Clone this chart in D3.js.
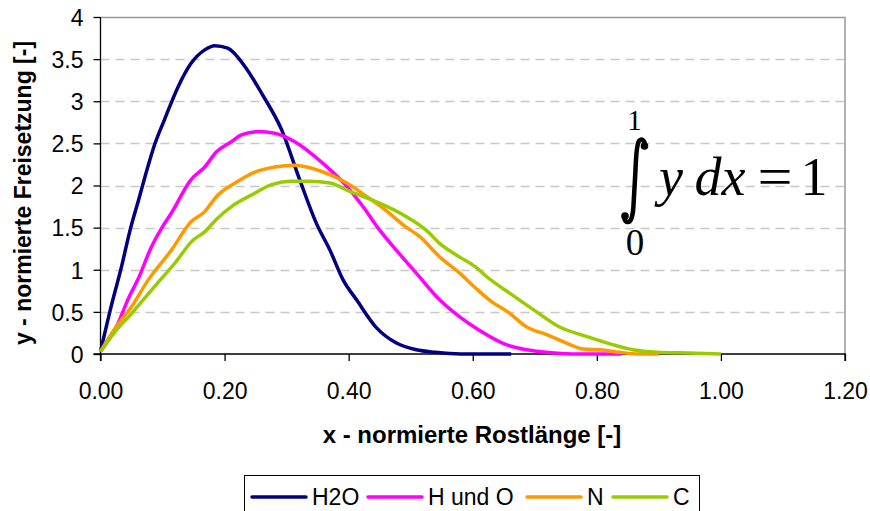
<!DOCTYPE html>
<html>
<head>
<meta charset="utf-8">
<script src="https://cdn.jsdelivr.net/npm/d3@7/dist/d3.min.js"></script>
<style>
  body { margin: 0; background: #fff; }
  svg { font-family: "Liberation Sans", Arial, sans-serif; }
</style>
</head>
<body>
<div id="chart"></div>
<script>
(function(d3) {
  'use strict';

  // series names and colours
  var seriesNames = ['H2O', 'H und O', 'N', 'C'];
  var seriesColors = ['#000080', '#FF00FF', '#FF9900', '#99CC00'];

  // H2O
  var h2oX = [0, 0.017, 0.034, 0.047, 0.063, 0.077, 0.087, 0.103, 0.125, 0.146, 0.168, 0.184, 0.205, 0.233, 0.26, 0.292, 0.321, 0.348, 0.37, 0.391, 0.413, 0.445, 0.477, 0.509, 0.54, 0.58, 0.662];
  var h2oY = [0.03, 0.56, 1.04, 1.45, 1.87, 2.24, 2.48, 2.78, 3.17, 3.45, 3.61, 3.66, 3.63, 3.41, 3.09, 2.66, 2.07, 1.55, 1.23, 0.88, 0.64, 0.31, 0.13, 0.05, 0.02, 0.0, 0.0];

  // H und O
  var hoX = [0, 0.028, 0.045, 0.06, 0.082, 0.099, 0.114, 0.146, 0.168, 0.187, 0.211, 0.227, 0.254, 0.281, 0.313, 0.359, 0.397, 0.423, 0.45, 0.477, 0.509, 0.547, 0.579, 0.611, 0.654, 0.687, 0.719, 0.76, 0.84];
  var hoY = [0.03, 0.36, 0.66, 0.88, 1.27, 1.50, 1.67, 2.07, 2.22, 2.40, 2.52, 2.60, 2.64, 2.62, 2.52, 2.26, 1.99, 1.75, 1.47, 1.23, 0.96, 0.64, 0.44, 0.28, 0.11, 0.05, 0.02, 0.0, 0.0];

  // N
  var nX = [0, 0.023, 0.05, 0.077, 0.114, 0.146, 0.168, 0.187, 0.217, 0.249, 0.281, 0.313, 0.359, 0.397, 0.429, 0.461, 0.49, 0.515, 0.547, 0.579, 0.605, 0.627, 0.66, 0.687, 0.719, 0.751, 0.778, 0.805, 0.837, 0.866, 0.9];
  var nY = [0.03, 0.30, 0.56, 0.88, 1.23, 1.57, 1.69, 1.87, 2.03, 2.16, 2.22, 2.24, 2.16, 2.03, 1.87, 1.70, 1.52, 1.39, 1.15, 0.96, 0.78, 0.64, 0.48, 0.32, 0.23, 0.13, 0.06, 0.05, 0.02, 0.0, 0.0];

  // C
  var cX = [0, 0.023, 0.05, 0.087, 0.12, 0.149, 0.168, 0.187, 0.211, 0.244, 0.276, 0.308, 0.337, 0.37, 0.402, 0.45, 0.493, 0.525, 0.547, 0.579, 0.605, 0.622, 0.66, 0.703, 0.74, 0.783, 0.821, 0.858, 0.896, 0.96, 1.0];
  var cY = [0.03, 0.26, 0.48, 0.80, 1.08, 1.35, 1.45, 1.60, 1.75, 1.89, 2.01, 2.05, 2.05, 2.03, 1.93, 1.79, 1.63, 1.47, 1.31, 1.15, 1.03, 0.92, 0.72, 0.50, 0.32, 0.21, 0.12, 0.05, 0.02, 0.01, 0.0];

  var xTicks = [0, 0.2, 0.4, 0.6, 0.8, 1.0, 1.2];
  var yTicks = [0, 0.5, 1, 1.5, 2, 2.5, 3, 3.5, 4];

  var seriesX = [h2oX, hoX, nX, cX];
  var seriesY = [h2oY, hoY, nY, cY];

  var width = 870;
  var height = 511;
  var left = 100.5, right = 845, top = 17, bottom = 354;

  var svg = d3.select('#chart')
    .append('svg')
    .attr('width', width)
    .attr('height', height);

  var x = d3.scaleLinear().domain([0, 1.2]).range([left, right]);
  var y = d3.scaleLinear().domain([0, 4]).range([bottom, top]);

  // gridlines
  svg.append('g')
    .selectAll('line')
    .data(yTicks.filter(function(d) { return d > 0 && d < 4; }))
    .enter()
    .append('line')
    .attr('x1', left)
    .attr('x2', right)
    .attr('y1', function(d) { return Math.round(y(d)) + 0.5; })
    .attr('y2', function(d) { return Math.round(y(d)) + 0.5; })
    .attr('stroke', '#c8c8c8')
    .attr('stroke-width', 1.3)
    .attr('stroke-dasharray', '9,6');

  // top and right border
  svg.append('path')
    .attr('d', 'M' + left + ',' + (top + 0.5) + 'H' + right + 'V' + bottom)
    .attr('fill', 'none')
    .attr('stroke', '#999')
    .attr('stroke-width', 1.5);

  // axes
  var yAxis = d3.axisLeft(y)
    .tickValues(yTicks)
    .tickSize(7)
    .tickPadding(10)
    .tickFormat(function(d) { return String(d); });

  var xAxis = d3.axisBottom(x)
    .tickValues(xTicks)
    .tickSize(7)
    .tickPadding(22)
    .tickFormat(d3.format('.2f'));

  var gy = svg.append('g')
    .attr('transform', 'translate(' + left + ',0)')
    .call(yAxis);
  var gx = svg.append('g')
    .attr('transform', 'translate(0,' + bottom + ')')
    .call(xAxis);

  [gx, gy].forEach(function(g) {
    g.select('.domain').attr('stroke', '#000').attr('stroke-width', 1.3);
    g.selectAll('.tick line').attr('stroke', '#000').attr('stroke-width', 1.3);
    g.selectAll('.tick text')
      .attr('fill', '#000')
      .style('font-family', '"Liberation Sans", Arial, sans-serif')
      .style('font-size', '23px');
  });
  gx.select('.domain').attr('d', 'M' + left + ',7V0H' + right + 'V7');
  gy.select('.domain').attr('d', 'M-7,' + bottom + 'H0V' + top);
  gy.selectAll('.tick text').attr('dy', '0.36em');

  // lines
  var line = d3.line()
    .x(function(d) { return x(d[0]); })
    .y(function(d) { return y(d[1]); })
    .curve(d3.curveMonotoneX);

  seriesNames.forEach(function(name, i) {
    var pts = seriesX[i].map(function(v, j) { return [v, seriesY[i][j]]; });
    svg.append('path')
      .datum(pts)
      .attr('d', line)
      .attr('fill', 'none')
      .attr('stroke', seriesColors[i])
      .attr('stroke-width', 3.5)
      .attr('stroke-linejoin', 'round');
  });

  // axis titles
  svg.append('text')
    .attr('x', 472)
    .attr('y', 443)
    .attr('text-anchor', 'middle')
    .style('font-size', '24px')
    .style('font-weight', 'bold')
    .text('x - normierte Rostlänge [-]');

  svg.append('text')
    .attr('transform', 'translate(31,193) rotate(-90)')
    .attr('text-anchor', 'middle')
    .style('font-size', '23px')
    .style('font-weight', 'bold')
    .text('y - normierte Freisetzung [-]');

  // integral annotation
  var eq = svg.append('g')
    .style('font-family', '"Liberation Serif", "Times New Roman", serif')
    .attr('fill', '#000');
  eq.append('text')
    .attr('x', 634.5).attr('y', 130)
    .attr('text-anchor', 'middle')
    .style('font-size', '29px')
    .text('1');
  eq.append('text')
    .attr('x', 635).attr('y', 255)
    .attr('text-anchor', 'middle')
    .style('font-size', '37px')
    .text('0');
  // integral sign
  eq.append('path')
    .attr('d', 'M645,146 C645,140 641,138 639,141 C636.5,145 636,155 635.5,170 L633.5,205 C633,216 631,222 628,222 C625,222 624,219 624.5,216')
    .attr('fill', 'none')
    .attr('stroke', '#000')
    .attr('stroke-width', 4.5);
  eq.append('circle').attr('cx', 644.5).attr('cy', 146).attr('r', 3.8);
  eq.append('circle').attr('cx', 625).attr('cy', 216).attr('r', 3.8);

  eq.append('text')
    .attr('x', 671).attr('y', 195)
    .attr('text-anchor', 'middle')
    .style('font-size', '54px')
    .style('font-style', 'italic')
    .text('y');
  eq.append('text')
    .attr('x', 720).attr('y', 195)
    .attr('text-anchor', 'middle')
    .style('font-size', '54px')
    .style('font-style', 'italic')
    .text('dx');
  eq.append('text')
    .attr('transform', 'translate(775,195) scale(1.15,1)')
    .attr('text-anchor', 'middle')
    .style('font-size', '54px')
    .text('=');
  eq.append('text')
    .attr('x', 814).attr('y', 195)
    .attr('text-anchor', 'middle')
    .style('font-size', '54px')
    .text('1');

  // legend
  var legend = svg.append('g');
  legend.append('rect')
    .attr('x', 244.5).attr('y', 475.5)
    .attr('width', 455).attr('height', 45)
    .attr('fill', '#fff')
    .attr('stroke', '#000')
    .attr('stroke-width', 1);

  var legendX = [252, 368, 527, 613];
  seriesNames.forEach(function(name, i) {
    var g = legend.append('g').attr('transform', 'translate(' + legendX[i] + ',497)');
    g.append('line')
      .attr('x1', 0).attr('x2', 54)
      .attr('stroke', seriesColors[i])
      .attr('stroke-width', 3.5)
      .attr('stroke-linecap', 'round');
    g.append('text')
      .attr('x', 60)
      .attr('dy', '0.36em')
      .style('font-size', '23px')
      .text(name);
  });

})(window.d3);
</script>
</body>
</html>
